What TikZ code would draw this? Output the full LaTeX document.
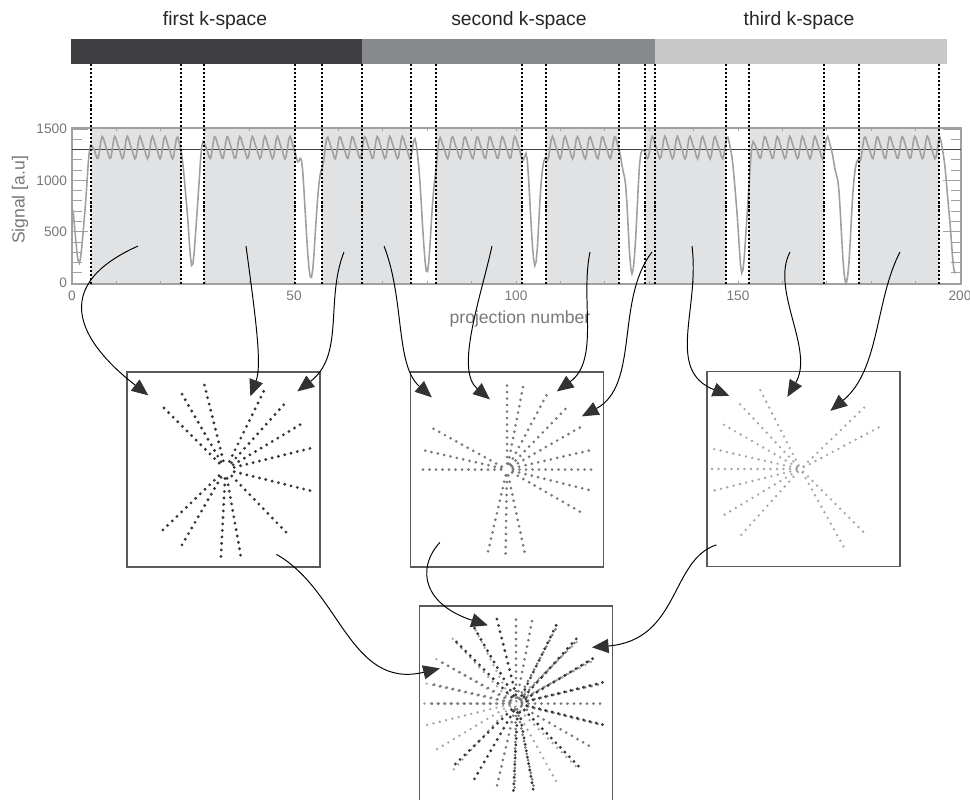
\documentclass[tikz,border=0pt]{standalone}
\usepackage{fontspec}
\setmainfont{Liberation Sans}
\usetikzlibrary{arrows.meta}
\definecolor{barone}{RGB}{64,64,66}
\definecolor{bartwo}{RGB}{136,137,140}
\definecolor{barthree}{RGB}{200,200,200}
\definecolor{dotone}{RGB}{55,55,55}
\definecolor{dottwo}{RGB}{120,120,120}
\definecolor{dotthree}{RGB}{165,165,165}
\definecolor{lightshade}{RGB}{225,226,228}
\definecolor{axisgray}{RGB}{160,160,160}
\definecolor{labelgray}{RGB}{120,120,120}
\definecolor{boxgray}{RGB}{90,90,90}
\definecolor{headgray}{RGB}{50,50,50}
\definecolor{signalgray}{RGB}{160,160,160}

\begin{document}
\begin{tikzpicture}[x=0.02cm, y=-0.02cm,
  kbox/.style={rectangle, draw=boxgray, line width=0.75pt,
               minimum width=3.86cm, minimum height=3.9cm, inner sep=0pt},
  arrow/.style={-{Triangle[length=9.5pt, width=8pt, color=headgray]},
                line width=0.55pt, color=black},
  title/.style={font=\fontsize{11}{13}\selectfont, text=black!85},
  ticklabel/.style={font=\fontsize{7.8}{9}\selectfont, text=labelgray, inner sep=1pt},
  axislabel/.style={font=\fontsize{10}{12}\selectfont, text=labelgray},
  gate/.style={line width=1.2pt, dash pattern=on 1.2pt off 1.1pt, color=black},
  tick/.style={draw=axisgray, line width=0.5pt},
  declare function={
    dip(\pos,\ctr,\wid)=exp(-pow(min(abs(\pos-\ctr)/\wid,3),2));
    wave(\pos)=1320+100*sin(28.8*mod(\pos,12.5))+25*sin(57.6*mod(\pos,6.25));
    sig(\pos)=wave(\pos)*(1-0.86*dip(\pos,79,7)
      -0.88*dip(\pos,192,6)-0.96*dip(\pos,311,7)-0.93*dip(\pos,427,6)
      -0.86*dip(\pos,535,6)-0.93*dip(\pos,632,6)-0.93*dip(\pos,742,6)
      -1.0*dip(\pos,846,7)-0.93*dip(\pos,955,7));
  }
]
  \useasboundingbox (0,0) rectangle (970,799);

  % k-space bars
  \fill[barone]   (71,39)  rectangle (362,64);
  \fill[bartwo]   (362,39) rectangle (655,64);
  \fill[barthree] (655,39) rectangle (947,64);
  \node[title] (tfirst)  at (215,20) {first k-space};
  \node[title] (tsecond) at (519,20) {second k-space};
  \node[title] (tthird)  at (799,20) {third k-space};

  % gated intervals
  \foreach \a/\b in {91/181,204/295,322/411,436/522,546/619,645/726,749/824,859/939}
    \fill[lightshade] (\a,128) rectangle (\b,284);

  % axes and ticks
  \draw[axisgray, line width=0.7pt] (72,128) rectangle (961,284);
  \foreach \v in {0,100,...,1500} {
    \draw[tick] (72,{283-0.10267*\v}) -- ++(10,0);
    \draw[tick] (961,{283-0.10267*\v}) -- ++(-10,0);
  }
  \foreach \v in {0,500,1000,1500} {
    \draw[tick] (72,{283-0.10267*\v}) -- ++(16,0);
    \draw[tick] (961,{283-0.10267*\v}) -- ++(-18,0);
    \node[ticklabel, anchor=east] (y\v) at (69,{283-0.10267*\v}) {\v};
  }
  \foreach \u in {0,10,...,200} {
    \draw[tick] ({72+4.44*\u},284) -- ++(0,-3);
    \draw[tick] ({72+4.44*\u},128) -- ++(0,3);
  }
  \foreach \u in {0,50,100,150,200}
    \node[ticklabel] (x\u) at ({72+4.44*\u},296) {\u};
  \node[axislabel, rotate=90] (ylab) at (20,200) {Signal [a.u]};
  \node[axislabel] (xlab) at (520,319) {projection number};

  % threshold and signal
  \draw[black!75, line width=0.8pt] (72,149.5) -- (961,149.5);
  \draw[signalgray, line width=0.9pt, domain=73:955, samples=700]
    plot (\x,{283-0.10267*sig(\x)});

  % gating lines
  \foreach \x in {91,181,204,295,322,362,411,436,522,546,619,645,655,726,749,824,859,939}
    \draw[gate] (\x,64) -- (\x,285);

  % k-space panels
  \node[kbox] (first)    at (223.5,469.5) {};
  \node[kbox] (second)   at (507,469.5)   {};
  \node[kbox] (third)    at (803.5,469)   {};
  \node[kbox] (combined) at (516,703.5)   {};

  % radial spokes
  \foreach \k in {third,combined}
    \foreach \a in {117,133,150,167,180,-166,-149,-132,44,28,-45,-61}
      \foreach \r in {4,10.5,...,90}
        \fill[dotthree] ([shift={({\r*cos(\a)-3},{-\r*sin(\a)})}]\k.center) circle (0.75pt);
  \foreach \k in {second,combined}
    \foreach \a in {90,79,62,46,30,13,0,-14,-30,-78,-91,-103,180,167,151}
      \foreach \r in {6,12.5,...,90}
        \fill[dottwo] ([shift={({\r*cos(\a)},{-\r*sin(\a)})}]\k.center) circle (0.85pt);
  \foreach \k in {first,combined}
    \foreach \a in {135,120,104,64,48,31,14,-14,-46,-80,-93,-120,-136}
      \foreach \r in {9,15.5,...,90}
        \fill[dotone] ([shift={({\r*cos(\a)+2},{-\r*sin(\a)})}]\k.center) circle (0.9pt);

  % arrow sources in the plot
  \coordinate (pa) at (138,246);
  \coordinate (pb) at (246,246);
  \coordinate (pc) at (344,252);
  \coordinate (pd) at (384,246);
  \coordinate (pe) at (492,246);
  \coordinate (pf) at (590,252);
  \coordinate (pg) at (652,252);
  \coordinate (ph) at (692,246);
  \coordinate (pi) at (790,252);
  \coordinate (pj) at (900,252);

  \draw[arrow] (pa) .. controls (40,290) and (90,350) .. ([shift={(22,24)}]first.north west);
  \draw[arrow] (pb) .. controls (256,320) and (262,365) .. ([shift={(124,25)}]first.north west);
  \draw[arrow] (pc) .. controls (325,300) and (345,355) .. ([shift={(171,20)}]first.north west);
  \draw[arrow] (pd) .. controls (405,300) and (395,365) .. ([shift={(22,26)}]second.north west);
  \draw[arrow] (pe) .. controls (480,300) and (455,370) .. ([shift={(80,28)}]second.north west);
  \draw[arrow] (pf) .. controls (580,300) and (600,360) .. ([shift={(147,20)}]second.north west);
  \draw[arrow] (pg) .. controls (615,300) and (640,385) .. ([shift={(172,45)}]second.north west);
  \draw[arrow] (ph) .. controls (700,310) and (665,370) .. ([shift={(23,25)}]third.north west);
  \draw[arrow] (pi) .. controls (770,290) and (815,350) .. ([shift={(81,26)}]third.north west);
  \draw[arrow] (pj) .. controls (875,300) and (880,370) .. ([shift={(124,40)}]third.north west);

  \draw[arrow] ([shift={(150,183)}]first.north west) .. controls (340,590) and (350,690) .. ([shift={(21,63)}]combined.north west);
  \draw[arrow] ([shift={(30,171)}]second.north west) .. controls (415,570) and (425,605) .. ([shift={(69,20)}]combined.north west);
  \draw[arrow] ([shift={(10,174)}]third.north west) .. controls (670,560) and (680,640) .. ([shift={(173,42)}]combined.north west);
\end{tikzpicture}
\end{document}
